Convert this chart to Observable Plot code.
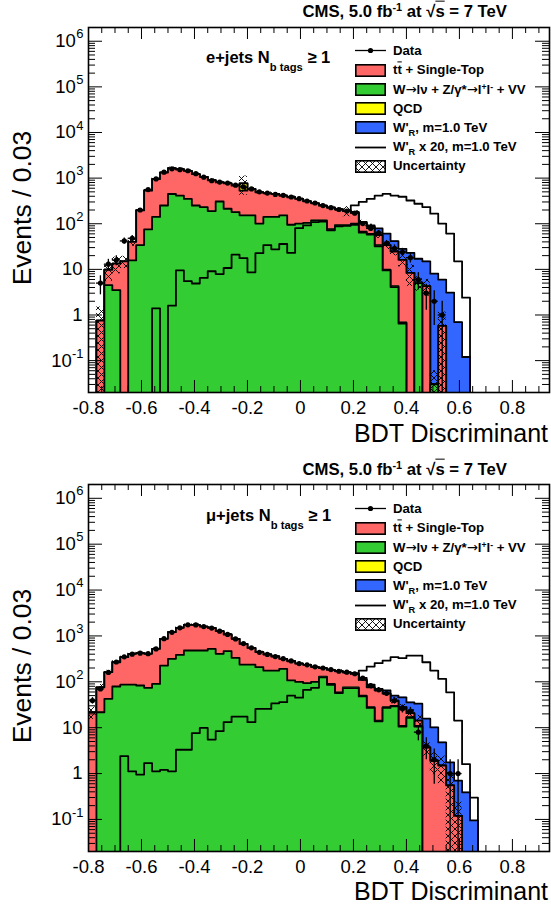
<!DOCTYPE html>
<html><head><meta charset="utf-8">
<script src="https://cdn.jsdelivr.net/npm/d3@7"></script>
<script src="https://cdn.jsdelivr.net/npm/@observablehq/plot@0.6"></script>
<style>
body{margin:0;background:#fff;}
#wrap{position:relative;width:551px;height:909px;font-family:'Liberation Sans',Arial,Helvetica,sans-serif;color:#000;overflow:hidden;background:#fff}
#wrap svg{display:block}
.ov{position:absolute;white-space:nowrap;line-height:1;}
.ov sup{font-size:0.65em;vertical-align:0.55em;line-height:0}
.ov sub{font-size:0.7em;vertical-align:-0.4em;line-height:0}
.ov .chsub{font-size:0.68em;vertical-align:-0.75em;line-height:0}
.ov .arr{font-family:'DejaVu Sans',sans-serif;font-weight:normal;}
.leg{font-weight:bold;font-size:13.2px;transform:translateY(-50%);}
</style></head><body>
<div id="wrap"><div id="p1"></div><div id="p2"></div></div>
<script>
// ---------- binning / axes ----------
const xMin = -0.8, binWidth = 0.03, nBins = 58;
const xDomain = [-0.8, 0.94];
const yDomain = [0.02, 2e6];
const xTickValues = [-0.8,-0.6,-0.4,-0.2,0,0.2,0.4,0.6,0.8];
const xTickLabels = ["-0.8","-0.6","-0.4","-0.2","0","0.2","0.4","0.6","0.8"];
const yTickValues = [0.1,1,10,100,1000,1e4,1e5,1e6];
const yTickBase = ["10","1","10","10","10","10","10","10"];
const yTickExp  = ["-1","","","2","3","4","5","6"];

// ---------- e+jets (top panel), per 0.03 bin starting at -0.8 ----------
// cumulative stack levels: Z/VV (lower green), + W (green), + tt/single-top (red)
const eZVV = [0,0,0,0,0,0,0,0,1.4,0, 1.6,9.5,5.5,4.9,6.5,9.1,7.9,10.7,21,17.6, 8.6,22.6,34,27.5,36,23,80,92,109,112, 72,88,90,95,64,58,32,9.5,4.1,0.65, 0,5.0,0,0.03,0,0,0,0,0,0];
const eW   = [0,0,4.5,3.5,0,15.7,34,75,141,251, 449,414,350,251,231,189,307,213,180,153, 153,101,141,141,153,95,101,104,119,119, 76,93,93,100,67,60,34,9.9,4.3,0.69, 0,5.1,0,0.03,0,0,0,0,0,0];
const eTT  = [0,0.75,9.8,13.3,14.9,40,196,531,949,1324, 1642,1563,1438,1218,1067,903,804,765,681,530, 577,489,465,449,414,381,350,310,280,250, 225,205,190,175,104,85,56,34,24.6,16.2, 8.4,5.1,4.3,0.03,0.58,0,0,0,0,0];
const eQCD = [0,0,0,0,0,0,0,0,0,0, 0,0,0,0,0,0,0,0,0,235, 0,0,0,0,0,0,0,0,0,0];
const eSig = [0,0,0,0,0,0,0,0,0,0, 0,0,0,0,0,0,0,0,0,0, 0,0,0,0,0,0,0,0,0,0, 2,3,5,7,6,7,23,27,17,12, 14.6,12,10.7,8,5.4,3.1,0.7,0.12,0,0];
const eSig20 = [0,0,0,0,0,0,0,0,0,0, 0,0,0,0,0,0,0,0,0,0, 10,12,15,20,25,30,40,50,60,75, 95,120,150,252,300,350,414,450,415,390, 323,274,232,166,101,61,15,2.4,0,0];
const eData = [0,5,13,16,42,48,200,560,960,1350, 1600,1530,1450,1250,1050,880,820,780,700,640, 580,500,470,440,420,385,355,315,285,250, 225,205,190,170,101,79,63,37,29,24, 18,6,3,2,1,0,0,0,0,0];
const eUnc = [0,1,0.45,0.4,0.3,0.2,0.1,0.06,0.06,0.06, 0.06,0.06,0.06,0.06,0.06,0.06,0.06,0.06,0.06,0.45, 0.07,0.07,0.07,0.07,0.07,0.07,0.07,0.07,0.07,0.07, 0.07,0.08,0.25,0.1,0.15,0.15,0.15,0.2,0.2,0.3, 0.5,0.35,0.4,1,1,0,0,0,0,0];

// ---------- mu+jets (bottom panel) ----------
const mZVV = [0,0,0,0,2.4,1.12,0.95,1.68,1.12,1.2, 1.12,3.3,3.3,7.6,9.9,5.5,8.4,13.2,17.5,17.5, 13.2,25.7,25.7,34,36,50,45,67,74,125, 86,57,73,73,48,27,13.8,27,29,10.6, 16.4,10.6,0,0,0,0,0,0,0,0];
const mW   = [0,21.7,42.5,79,87,87,83,74,90,226, 317,386,481,481,481,522,407,465,333,238, 238,208,176,176,192,107,100,94,100,130, 90,59,76,76,50,28,14.3,28,30,11, 17,11,0,0,0,0,0,0,0,0];
const mTT  = [21.7,76,162,267,344,407,421,407,522,863, 1208,1500,1743,1743,1603,1500,1268,1074,863,671, 549,442,394,356,317,281,250,235,210,198, 182,170,159,149,110,76,65,55,39,28, 20.7,14.3,3.7,1.9,1.5,0.55,0.12,0,0,0];
const mQCD = [];
const mSig = [0,0,0,0,0,0,0,0,0,0, 0,0,0,0,0,0,0,0,0,0, 0,0,0,0,0,0,0,0,0,0, 0,0,3,5,12,11,5,10,11,18, 15,19,12,8.3,3.3,1.2,0.58,0.39,0.095,0];
const mSig20 = [0,0,0,0,0,0,0,0,0,0, 0,0,0,0,0,0,0,0,0,0, 8,9,10,12,15,18,25,30,40,50, 60,75,95,120,176,215,255,291,344,327, 374,374,267,176,116,59,14.3,1.6,0.3,0];
const mData = [39,70,160,270,350,400,420,410,520,870, 1200,1500,1750,1740,1600,1480,1270,1080,860,680, 550,440,395,355,320,285,250,235,212,200, 185,170,162,150,120,83,67,56,39,26, 23,8,4,2,0,1,1,0,0,0];
const mUnc = [0.3,0.15,0.1,0.08,0.05,0.05,0.05,0.05,0.05,0.05, 0.05,0.05,0.05,0.05,0.05,0.05,0.05,0.05,0.05,0.05, 0.05,0.05,0.05,0.05,0.05,0.05,0.05,0.05,0.05,0.05, 0.05,0.08,0.08,0.08,0.08,0.08,0.08,0.08,0.15,0.15, 0.2,0.3,0.35,0.5,0.6,1,1,0,0,0];

const colors = {tt:"#ff6666", w:"#33cc33", qcd:"#ffff00", sig:"#3366ff"};

function makePanel(p, {height, marginTop, marginBottom, hatchId}) {
  const marginLeft = 88, marginRight = 2, width = 551;
  const FW = width - marginLeft - marginRight, FH = height - marginTop - marginBottom;
  const FLOOR = 1e-6;
  const val = (a, k) => a[k] || 0;
  const ks = d3.range(nBins);
  const lo = k => xMin + k * binWidth, hi = k => xMin + (k + 1) * binWidth;
  const step = f => ks.flatMap(k => { const v = f(k); const y = v > 0 ? v : FLOOR; return [{x: lo(k), y}, {x: hi(k), y}]; });
  const zvvL = k => val(p.zvv, k);
  const wL = k => val(p.w, k);
  const ttL = k => val(p.tt, k);
  const qcdL = k => ttL(k) + val(p.qcd, k);
  const sigL = k => qcdL(k) + val(p.sig, k);
  const layer = (f, fill) => {
    const pts = step(f);
    return [
      Plot.areaY(pts, {x: "x", y1: FLOOR, y2: "y", fill, clip: true}),
      Plot.line(pts, {x: "x", y: "y", stroke: "black", strokeWidth: 1.8, clip: true})
    ];
  };
  const uncBins = ks.filter(k => val(p.unc, k) > 0 && qcdL(k) > 0).map(k => {
    const b = qcdL(k), u = val(p.unc, k);
    return {x1: lo(k), x2: hi(k), y1: Math.max(b * (1 - u), FLOOR), y2: b * (1 + u)};
  });
  const dataPts = ks.filter(k => val(p.data, k) > 0).map(k => {
    const n = val(p.data, k), e = Math.sqrt(n);
    return {x: (lo(k) + hi(k)) / 2, x1: lo(k), x2: hi(k), y: n, lo: Math.max(n - e, FLOOR), hi: n + e};
  });
  const xMinor = d3.range(-16, 19).map(i => i * 0.05).filter(x => !xTickValues.some(t => Math.abs(t - x) < 1e-9));
  const yMinor = d3.range(-2, 7).flatMap(e => d3.range(2, 10).map(m => m * Math.pow(10, e))).filter(v => v > 0.0201 && v < 1.99e6);
  const xLab = new Map(xTickValues.map((v, i) => [v, xTickLabels[i]]));
  const yTicks = yTickValues.map((v, i) => ({v, base: yTickBase[i], exp: yTickExp[i]}));
  const defs = () => {
    const d = d3.create("svg:defs");
    const pat = d.append("pattern").attr("id", hatchId).attr("patternUnits", "userSpaceOnUse").attr("width", 7).attr("height", 7);
    pat.append("path").attr("d", "M-1,-1L8,8M8,-1L-1,8").attr("stroke", "black").attr("stroke-width", 0.9).attr("fill", "none");
    return d.node();
  };
  const labFont = 18.5, pad = 6;
  return Plot.plot({
    width, height, marginLeft, marginRight, marginTop, marginBottom,
    x: {domain: xDomain},
    y: {type: "log", domain: yDomain, axis: null},
    style: {fontFamily: "'Liberation Sans', Arial, Helvetica, sans-serif", color: "black", background: "white"},
    marks: [
      defs,
      Plot.line(step(k => val(p.sig20, k)), {x: "x", y: "y", stroke: "black", strokeWidth: 1.8, clip: true}),
      ...layer(sigL, colors.sig),
      ...layer(qcdL, colors.qcd),
      ...layer(ttL, colors.tt),
      ...layer(wL, colors.w),
      ...layer(zvvL, colors.w),
      Plot.rect(uncBins, {x1: "x1", x2: "x2", y1: "y1", y2: "y2", fill: `url(#${hatchId})`, clip: true}),
      Plot.ruleX(dataPts, {x: "x", y1: "lo", y2: "hi", stroke: "black", strokeWidth: 1.3, clip: true}),
      Plot.ruleY(dataPts, {y: "y", x1: "x1", x2: "x2", stroke: "black", strokeWidth: 1.3, clip: true}),
      Plot.dot(dataPts, {x: "x", y: "y", r: 2.6, fill: "black", clip: true}),
      // inward ticks on all four sides
      Plot.ruleX(xTickValues, {x: d => d, insetTop: FH - 12, stroke: "black"}),
      Plot.ruleX(xTickValues, {x: d => d, insetBottom: FH - 12, stroke: "black"}),
      Plot.ruleX(xMinor, {x: d => d, insetTop: FH - 6, stroke: "black"}),
      Plot.ruleX(xMinor, {x: d => d, insetBottom: FH - 6, stroke: "black"}),
      Plot.ruleY(yTickValues, {y: d => d, insetRight: FW - 14, stroke: "black"}),
      Plot.ruleY(yTickValues, {y: d => d, insetLeft: FW - 14, stroke: "black"}),
      Plot.ruleY(yMinor, {y: d => d, insetRight: FW - 7, stroke: "black"}),
      Plot.ruleY(yMinor, {y: d => d, insetLeft: FW - 7, stroke: "black"}),
      Plot.frame({stroke: "black", strokeWidth: 1.6}),
      Plot.axisX({ticks: xTickValues, tickSize: 0, tickPadding: 8, fontSize: labFont, label: null, tickFormat: d => xLab.get(d)}),
      // y tick labels: base number and raised exponent
      Plot.text(yTicks.filter(d => d.exp === ""), {y: "v", text: "base", frameAnchor: "left", textAnchor: "end", dx: -pad, fontSize: labFont}),
      Plot.text(yTicks.filter(d => d.exp !== ""), {y: "v", text: "exp", frameAnchor: "left", textAnchor: "end", dx: -pad + 1, dy: -7, fontSize: 13}),
      Plot.text(yTicks.filter(d => d.exp.length === 1), {y: "v", text: "base", frameAnchor: "left", textAnchor: "end", dx: -pad - 6.6, fontSize: labFont}),
      Plot.text(yTicks.filter(d => d.exp.length === 2), {y: "v", text: "base", frameAnchor: "left", textAnchor: "end", dx: -pad - 10.6, fontSize: labFont})
    ]
  });
}

document.getElementById("p1").appendChild(makePanel(
  {zvv: eZVV, w: eW, tt: eTT, qcd: eQCD, sig: eSig, sig20: eSig20, data: eData, unc: eUnc},
  {height: 458, marginTop: 27, marginBottom: 66, hatchId: "hatchE"}));
document.getElementById("p2").appendChild(makePanel(
  {zvv: mZVV, w: mW, tt: mTT, qcd: mQCD, sig: mSig, sig20: mSig20, data: mData, unc: mUnc},
  {height: 451, marginTop: 26, marginBottom: 58, hatchId: "hatchM"}));

// ---------- text overlays & legends ----------
const legendItems = [
  {type: "data", label: "Data"},
  {type: "box", color: colors.tt, label: 't<span style="text-decoration:overline">t</span> + Single-Top'},
  {type: "box", color: colors.w, label: 'W<span class="arr">&rarr;</span>l&nu; + Z/&gamma;*<span class="arr">&rarr;</span>l<sup>+</sup>l<sup>-</sup> + VV'},
  {type: "box", color: colors.qcd, label: "QCD"},
  {type: "box", color: colors.sig, label: "W'<sub>R</sub>, m=1.0 TeV"},
  {type: "line", label: "W'<sub>R</sub> x 20, m=1.0 TeV"},
  {type: "hatch", label: "Uncertainty"}
];
const legendRows = [50.5, 70, 89.5, 108.5, 127.5, 147, 166];
const channels = ['e+jets N<span class="chsub">b tags</span> &ge; 1', '&mu;+jets N<span class="chsub">b tags</span> &ge; 1'];

const wrap = document.getElementById("wrap");
function add(html, style, cls = "ov") {
  const d = document.createElement("div");
  d.className = cls; d.innerHTML = html;
  Object.assign(d.style, style);
  wrap.appendChild(d);
  return d;
}
function swatch(item) {
  const w = 31, h = 13;
  if (item.type === "data") return `<svg width="${w}" height="${h}"><line x1="0" x2="${w}" y1="6.5" y2="6.5" stroke="black" stroke-width="1.3"/><circle cx="15.5" cy="6.5" r="2.6" fill="black"/></svg>`;
  if (item.type === "line") return `<svg width="${w}" height="${h}"><line x1="0" x2="${w}" y1="6.5" y2="6.5" stroke="black" stroke-width="1.8"/></svg>`;
  if (item.type === "hatch") return `<svg width="${w}" height="${h}"><defs><pattern id="lh" patternUnits="userSpaceOnUse" width="7" height="7"><path d="M-1,-1L8,8M8,-1L-1,8" stroke="black" stroke-width="0.9"/></pattern></defs><rect x="0.8" y="0.8" width="${w-1.6}" height="${h-1.6}" fill="white"/><rect x="0.8" y="0.8" width="${w-1.6}" height="${h-1.6}" fill="url(#lh)" stroke="black" stroke-width="1.6"/></svg>`;
  return `<svg width="${w}" height="${h}"><rect x="0.8" y="0.8" width="${w-1.6}" height="${h-1.6}" fill="${item.color}" stroke="black" stroke-width="1.6"/></svg>`;
}
[0, 458].forEach((off, pi) => {
  add('CMS, 5.0 fb<sup>-1</sup> at &radic;<span style="text-decoration:overline">s</span> = 7 TeV',
      {right: "44px", top: (off + 12) + "px", transform: "translateY(-50%)", fontWeight: "bold", fontSize: "16.7px"});
  add(channels[pi], {left: "206px", top: (off + 58) + "px", transform: "translateY(-50%)", fontWeight: "bold", fontSize: "16.5px"});
  legendItems.forEach((it, i) => {
    const y = off + legendRows[i];
    add(swatch(it), {left: "355px", top: (y - 6.5) + "px", lineHeight: "0"});
    add(it.label, {left: "393px", top: y + "px"}, "ov leg");
  });
  add("Events / 0.03", {left: "22px", top: (off + 208) + "px", transform: "translate(-50%,-50%) rotate(-90deg)", fontSize: "26.5px"});
  add("BDT Discriminant", {right: "3px", top: (off + 433) + "px", transform: "translateY(-50%)", fontSize: "25px"});
});
</script>
</body></html>
